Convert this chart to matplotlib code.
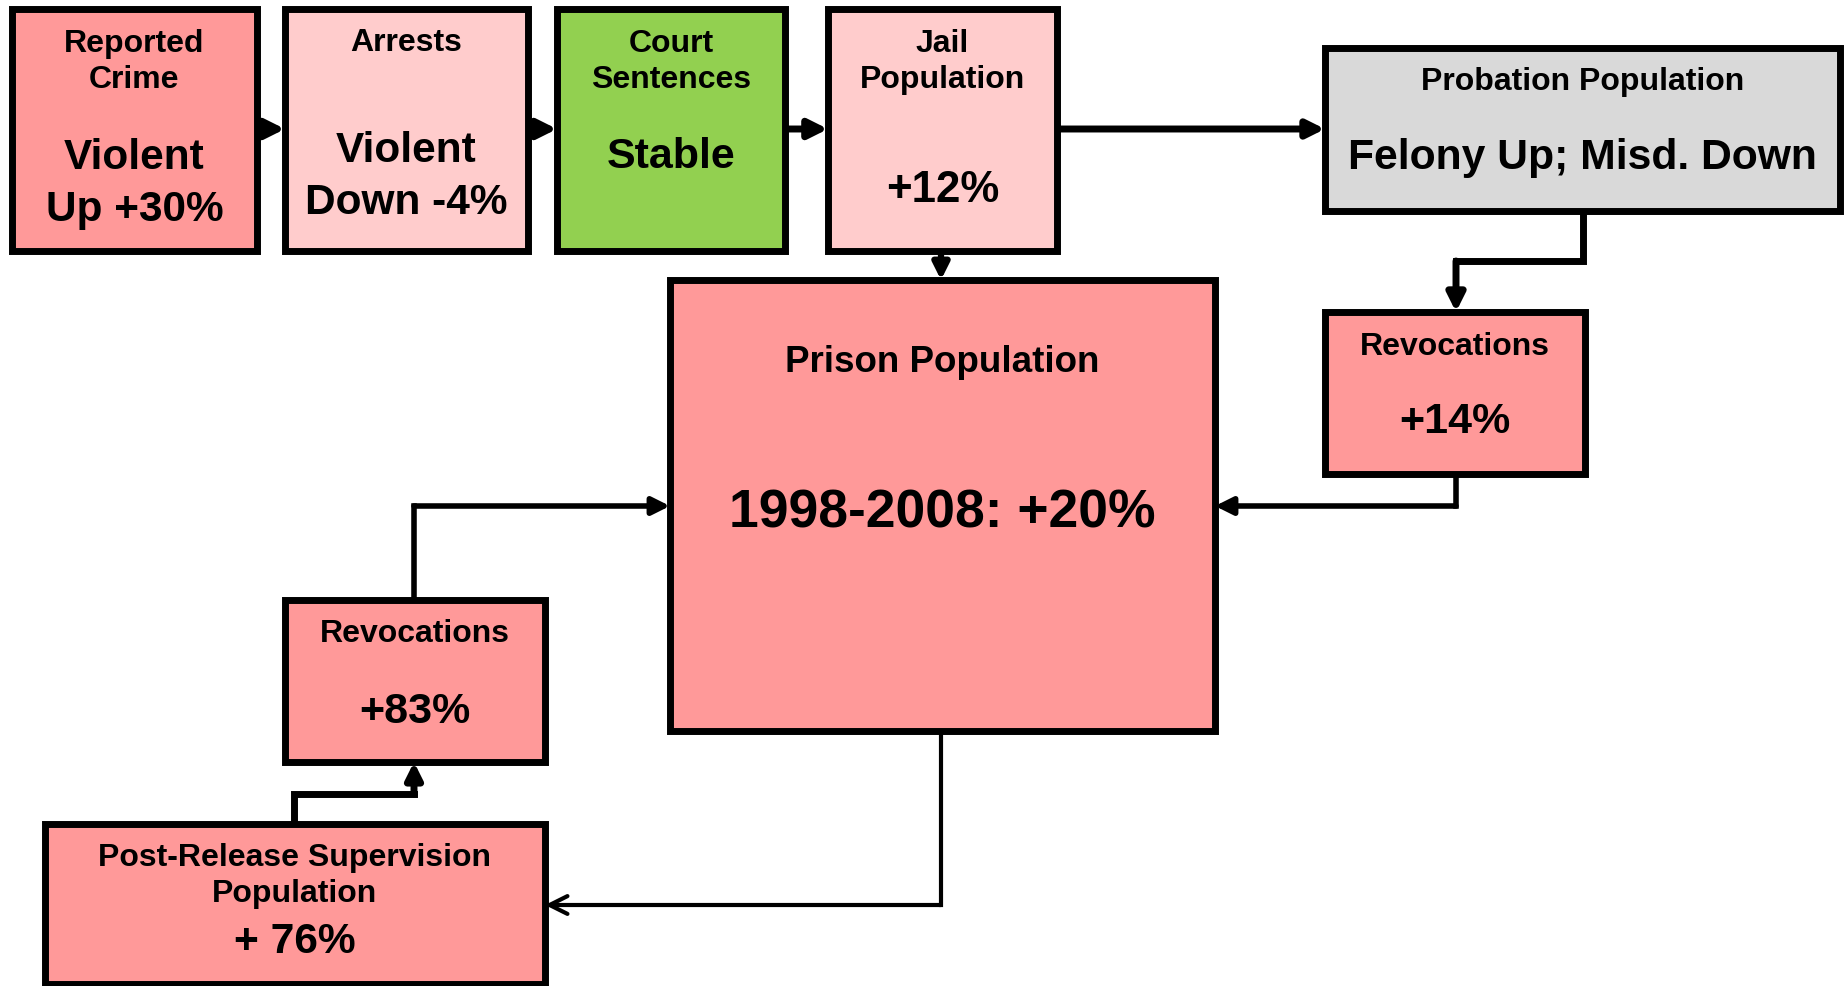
import matplotlib.pyplot as plt
from matplotlib.patches import Rectangle

plt.rcParams['font.family'] = ['Liberation Sans', 'DejaVu Sans']
plt.rcParams['font.weight'] = 'bold'

# box labels
titles = ['Reported\nCrime', 'Arrests', 'Court\nSentences', 'Jail\nPopulation',
          'Probation Population', 'Prison Population', 'Revocations',
          'Revocations', 'Post-Release Supervision\nPopulation']
values = ['Violent\nUp +30%', 'Violent\nDown -4%', 'Stable', '+12%',
          'Felony Up; Misd. Down', '1998-2008: +20%', '+14%', '+83%', '+ 76%']

# layout (pixels): x0, y0, x1, y1
boxes = [(12, 9, 257, 251), (285, 9, 528, 251), (557, 9, 785, 251),
         (828, 9, 1057, 251), (1325, 48, 1840, 211), (670, 280, 1215, 731),
         (1325, 312, 1585, 474), (285, 600, 545, 762), (45, 824, 545, 984)]
colors = ['#FF9999', '#FFCCCC', '#92D050', '#FFCCCC', '#D9D9D9', '#FF9999',
          '#FF9999', '#FF9999', '#FF9999']
title_y = [62, 43, 62, 62, 82, 363, 347, 634, 876]
value_y = [184, 177, 157, 190, 158, 514, 422, 712, 942]
title_fs = [23, 23, 23, 23, 23, 26.5, 23, 23, 23]
value_fs = [30.5, 30.5, 31, 31.5, 30.7, 38.4, 31, 31, 30.6]

fig = plt.figure(figsize=(18.45, 9.86), dpi=100)
ax = fig.add_axes([0, 0, 1, 1])
ax.set_xlim(0, 1845)
ax.set_ylim(986, 0)
ax.axis('off')

for (x0, y0, x1, y1), c, t, v, ty, vy, tf, vf in zip(boxes, colors, titles, values,
                                                     title_y, value_y, title_fs, value_fs):
    ax.add_patch(Rectangle((x0, y0), x1 - x0, y1 - y0, facecolor=c,
                           edgecolor='black', linewidth=5, zorder=2))
    cx = (x0 + x1) / 2
    ax.text(cx, ty, t, ha='center', va='center', fontsize=tf, fontweight='bold',
            linespacing=1.3, zorder=3)
    ax.text(cx, vy, v, ha='center', va='center', fontsize=vf, fontweight='bold',
            linespacing=1.37, zorder=3)


def connector(pts, lw=4.5, style='-|>', ms=30):
    xs = [p[0] for p in pts]
    ys = [p[1] for p in pts]
    ax.plot(xs[:-1], ys[:-1], color='black', lw=lw, solid_capstyle='projecting',
            solid_joinstyle='miter', zorder=1)
    ax.annotate('', xy=pts[-1], xytext=pts[-2],
                arrowprops=dict(arrowstyle=style, color='black', lw=lw,
                                mutation_scale=ms, shrinkA=0, shrinkB=0),
                zorder=1)


# top row
connector([(257, 129), (285, 129)], lw=5, ms=28)
connector([(528, 129), (557, 129)], lw=5, ms=28)
connector([(785, 129), (828, 129)], lw=5, ms=28)
connector([(1057, 129), (1325, 129)], lw=5, ms=26)
connector([(941, 251), (941, 280)], ms=24)
# probation -> revocations -> prison
connector([(1583, 211), (1583, 261), (1456, 261), (1456, 312)], lw=5, ms=26)
connector([(1456, 474), (1456, 506), (1215, 506)], lw=4, ms=26)
# prison -> post-release
connector([(941, 731), (941, 905), (545, 905)], lw=3, style='->', ms=32)
# post-release -> revocations -> prison
connector([(294, 824), (294, 794), (414, 794), (414, 762)], lw=5, ms=24)
connector([(414, 600), (414, 506), (670, 506)], lw=4, ms=26)

fig.savefig('out.png', dpi=100)
